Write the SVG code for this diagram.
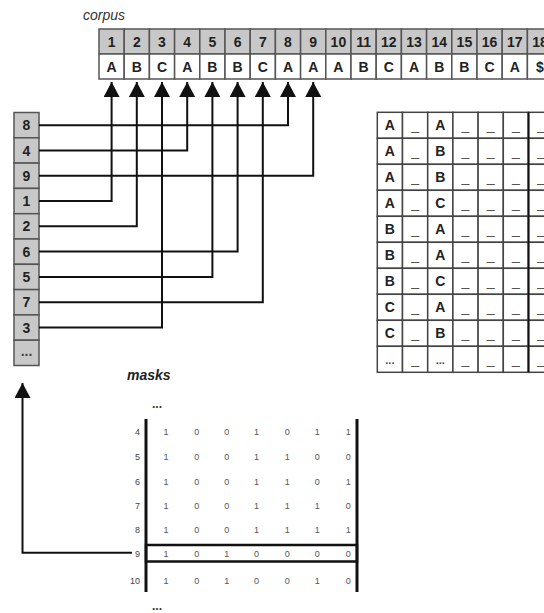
<svg xmlns="http://www.w3.org/2000/svg" width="544" height="613" viewBox="0 0 544 613">
<style>
.b{font-family:"Liberation Sans",Arial,sans-serif;font-weight:bold;font-size:14px;fill:#222;text-anchor:middle}
.u{font-family:"Liberation Sans",Arial,sans-serif;font-size:14px;fill:#555;text-anchor:middle}
.m{font-family:"Liberation Sans",Arial,sans-serif;font-size:9px;fill:#555;text-anchor:middle}
.ml{font-family:"Liberation Sans",Arial,sans-serif;font-size:9px;fill:#444;text-anchor:end}
.hd{fill:#c8c8c8;stroke:#555;stroke-width:1.5}
.cl{fill:#fff;stroke:#555;stroke-width:1.5}
.tc{fill:#fff;stroke:#444;stroke-width:1.5}
.cn{fill:none;stroke:#111;stroke-width:2}
.bar{stroke:#111;stroke-width:3}
</style>
<defs>
<marker id="ah" markerUnits="userSpaceOnUse" markerWidth="16" markerHeight="16" refX="15" refY="8" orient="auto">
<path d="M0,0 L15,8 L0,16 z" fill="#111"/>
</marker>
</defs>

<text x="83" y="20" font-family="Liberation Sans, Arial, sans-serif" font-style="italic" font-size="14" fill="#333">corpus</text>

<g id="corpus">
<rect class="hd" x="99" y="29" width="25.2" height="25"/><rect class="cl" x="99" y="54" width="25.2" height="25"/><text class="b" x="111.6" y="46.5">1</text><text class="b" x="111.6" y="71.5">A</text>
<rect class="hd" x="124.2" y="29" width="25.2" height="25"/><rect class="cl" x="124.2" y="54" width="25.2" height="25"/><text class="b" x="136.8" y="46.5">2</text><text class="b" x="136.8" y="71.5">B</text>
<rect class="hd" x="149.4" y="29" width="25.2" height="25"/><rect class="cl" x="149.4" y="54" width="25.2" height="25"/><text class="b" x="162" y="46.5">3</text><text class="b" x="162" y="71.5">C</text>
<rect class="hd" x="174.6" y="29" width="25.2" height="25"/><rect class="cl" x="174.6" y="54" width="25.2" height="25"/><text class="b" x="187.2" y="46.5">4</text><text class="b" x="187.2" y="71.5">A</text>
<rect class="hd" x="199.8" y="29" width="25.2" height="25"/><rect class="cl" x="199.8" y="54" width="25.2" height="25"/><text class="b" x="212.4" y="46.5">5</text><text class="b" x="212.4" y="71.5">B</text>
<rect class="hd" x="225" y="29" width="25.2" height="25"/><rect class="cl" x="225" y="54" width="25.2" height="25"/><text class="b" x="237.6" y="46.5">6</text><text class="b" x="237.6" y="71.5">B</text>
<rect class="hd" x="250.2" y="29" width="25.2" height="25"/><rect class="cl" x="250.2" y="54" width="25.2" height="25"/><text class="b" x="262.8" y="46.5">7</text><text class="b" x="262.8" y="71.5">C</text>
<rect class="hd" x="275.4" y="29" width="25.2" height="25"/><rect class="cl" x="275.4" y="54" width="25.2" height="25"/><text class="b" x="288" y="46.5">8</text><text class="b" x="288" y="71.5">A</text>
<rect class="hd" x="300.6" y="29" width="25.2" height="25"/><rect class="cl" x="300.6" y="54" width="25.2" height="25"/><text class="b" x="313.2" y="46.5">9</text><text class="b" x="313.2" y="71.5">A</text>
<rect class="hd" x="325.8" y="29" width="25.2" height="25"/><rect class="cl" x="325.8" y="54" width="25.2" height="25"/><text class="b" x="338.4" y="46.5">10</text><text class="b" x="338.4" y="71.5">A</text>
<rect class="hd" x="351" y="29" width="25.2" height="25"/><rect class="cl" x="351" y="54" width="25.2" height="25"/><text class="b" x="363.6" y="46.5">11</text><text class="b" x="363.6" y="71.5">B</text>
<rect class="hd" x="376.2" y="29" width="25.2" height="25"/><rect class="cl" x="376.2" y="54" width="25.2" height="25"/><text class="b" x="388.8" y="46.5">12</text><text class="b" x="388.8" y="71.5">C</text>
<rect class="hd" x="401.4" y="29" width="25.2" height="25"/><rect class="cl" x="401.4" y="54" width="25.2" height="25"/><text class="b" x="414" y="46.5">13</text><text class="b" x="414" y="71.5">A</text>
<rect class="hd" x="426.6" y="29" width="25.2" height="25"/><rect class="cl" x="426.6" y="54" width="25.2" height="25"/><text class="b" x="439.2" y="46.5">14</text><text class="b" x="439.2" y="71.5">B</text>
<rect class="hd" x="451.8" y="29" width="25.2" height="25"/><rect class="cl" x="451.8" y="54" width="25.2" height="25"/><text class="b" x="464.4" y="46.5">15</text><text class="b" x="464.4" y="71.5">B</text>
<rect class="hd" x="477" y="29" width="25.2" height="25"/><rect class="cl" x="477" y="54" width="25.2" height="25"/><text class="b" x="489.6" y="46.5">16</text><text class="b" x="489.6" y="71.5">C</text>
<rect class="hd" x="502.2" y="29" width="25.2" height="25"/><rect class="cl" x="502.2" y="54" width="25.2" height="25"/><text class="b" x="514.8" y="46.5">17</text><text class="b" x="514.8" y="71.5">A</text>
<rect class="hd" x="527.4" y="29" width="25.2" height="25"/><rect class="cl" x="527.4" y="54" width="25.2" height="25"/><text class="b" x="540" y="46.5">18</text><text class="b" x="540" y="71.5">$</text>
</g>

<g id="suffix-array">
<rect class="hd" x="14" y="112.5" width="25" height="25.3"/><text class="b" x="26.5" y="130.2">8</text>
<rect class="hd" x="14" y="137.8" width="25" height="25.3"/><text class="b" x="26.5" y="155.5">4</text>
<rect class="hd" x="14" y="163.1" width="25" height="25.3"/><text class="b" x="26.5" y="180.8">9</text>
<rect class="hd" x="14" y="188.4" width="25" height="25.3"/><text class="b" x="26.5" y="206.1">1</text>
<rect class="hd" x="14" y="213.7" width="25" height="25.3"/><text class="b" x="26.5" y="231.4">2</text>
<rect class="hd" x="14" y="239" width="25" height="25.3"/><text class="b" x="26.5" y="256.7">6</text>
<rect class="hd" x="14" y="264.3" width="25" height="25.3"/><text class="b" x="26.5" y="282">5</text>
<rect class="hd" x="14" y="289.6" width="25" height="25.3"/><text class="b" x="26.5" y="307.3">7</text>
<rect class="hd" x="14" y="314.9" width="25" height="25.3"/><text class="b" x="26.5" y="332.6">3</text>
<rect class="hd" x="14" y="340.2" width="25" height="25.3"/><text class="b" x="26.5" y="356" style="fill:#444">...</text>
</g>

<g id="table">
<g id="row1"><rect class="tc" x="377.3" y="112.3" width="25.2" height="26"/><rect class="tc" x="402.5" y="112.3" width="25.2" height="26"/><rect class="tc" x="427.7" y="112.3" width="25.2" height="26"/><rect class="tc" x="452.9" y="112.3" width="25.2" height="26"/><rect class="tc" x="478.1" y="112.3" width="25.2" height="26"/><rect class="tc" x="503.3" y="112.3" width="25.2" height="26"/><rect class="tc" x="528.5" y="112.3" width="25.2" height="26"/>
<text class="b" x="389.9" y="130.3">A</text><text class="u" x="415.1" y="130.3">_</text><text class="b" x="440.3" y="130.3">A</text><text class="u" x="465.5" y="130.3">_</text><text class="u" x="490.7" y="130.3">_</text><text class="u" x="515.9" y="130.3">_</text><text class="u" x="541.1" y="130.3">_</text></g>
<g id="row2"><rect class="tc" x="377.3" y="138.3" width="25.2" height="26"/><rect class="tc" x="402.5" y="138.3" width="25.2" height="26"/><rect class="tc" x="427.7" y="138.3" width="25.2" height="26"/><rect class="tc" x="452.9" y="138.3" width="25.2" height="26"/><rect class="tc" x="478.1" y="138.3" width="25.2" height="26"/><rect class="tc" x="503.3" y="138.3" width="25.2" height="26"/><rect class="tc" x="528.5" y="138.3" width="25.2" height="26"/>
<text class="b" x="389.9" y="156.3">A</text><text class="u" x="415.1" y="156.3">_</text><text class="b" x="440.3" y="156.3">B</text><text class="u" x="465.5" y="156.3">_</text><text class="u" x="490.7" y="156.3">_</text><text class="u" x="515.9" y="156.3">_</text><text class="u" x="541.1" y="156.3">_</text></g>
<g id="row3"><rect class="tc" x="377.3" y="164.3" width="25.2" height="26"/><rect class="tc" x="402.5" y="164.3" width="25.2" height="26"/><rect class="tc" x="427.7" y="164.3" width="25.2" height="26"/><rect class="tc" x="452.9" y="164.3" width="25.2" height="26"/><rect class="tc" x="478.1" y="164.3" width="25.2" height="26"/><rect class="tc" x="503.3" y="164.3" width="25.2" height="26"/><rect class="tc" x="528.5" y="164.3" width="25.2" height="26"/>
<text class="b" x="389.9" y="182.3">A</text><text class="u" x="415.1" y="182.3">_</text><text class="b" x="440.3" y="182.3">B</text><text class="u" x="465.5" y="182.3">_</text><text class="u" x="490.7" y="182.3">_</text><text class="u" x="515.9" y="182.3">_</text><text class="u" x="541.1" y="182.3">_</text></g>
<g id="row4"><rect class="tc" x="377.3" y="190.3" width="25.2" height="26"/><rect class="tc" x="402.5" y="190.3" width="25.2" height="26"/><rect class="tc" x="427.7" y="190.3" width="25.2" height="26"/><rect class="tc" x="452.9" y="190.3" width="25.2" height="26"/><rect class="tc" x="478.1" y="190.3" width="25.2" height="26"/><rect class="tc" x="503.3" y="190.3" width="25.2" height="26"/><rect class="tc" x="528.5" y="190.3" width="25.2" height="26"/>
<text class="b" x="389.9" y="208.3">A</text><text class="u" x="415.1" y="208.3">_</text><text class="b" x="440.3" y="208.3">C</text><text class="u" x="465.5" y="208.3">_</text><text class="u" x="490.7" y="208.3">_</text><text class="u" x="515.9" y="208.3">_</text><text class="u" x="541.1" y="208.3">_</text></g>
<g id="row5"><rect class="tc" x="377.3" y="216.3" width="25.2" height="26"/><rect class="tc" x="402.5" y="216.3" width="25.2" height="26"/><rect class="tc" x="427.7" y="216.3" width="25.2" height="26"/><rect class="tc" x="452.9" y="216.3" width="25.2" height="26"/><rect class="tc" x="478.1" y="216.3" width="25.2" height="26"/><rect class="tc" x="503.3" y="216.3" width="25.2" height="26"/><rect class="tc" x="528.5" y="216.3" width="25.2" height="26"/>
<text class="b" x="389.9" y="234.3">B</text><text class="u" x="415.1" y="234.3">_</text><text class="b" x="440.3" y="234.3">A</text><text class="u" x="465.5" y="234.3">_</text><text class="u" x="490.7" y="234.3">_</text><text class="u" x="515.9" y="234.3">_</text><text class="u" x="541.1" y="234.3">_</text></g>
<g id="row6"><rect class="tc" x="377.3" y="242.3" width="25.2" height="26"/><rect class="tc" x="402.5" y="242.3" width="25.2" height="26"/><rect class="tc" x="427.7" y="242.3" width="25.2" height="26"/><rect class="tc" x="452.9" y="242.3" width="25.2" height="26"/><rect class="tc" x="478.1" y="242.3" width="25.2" height="26"/><rect class="tc" x="503.3" y="242.3" width="25.2" height="26"/><rect class="tc" x="528.5" y="242.3" width="25.2" height="26"/>
<text class="b" x="389.9" y="260.3">B</text><text class="u" x="415.1" y="260.3">_</text><text class="b" x="440.3" y="260.3">A</text><text class="u" x="465.5" y="260.3">_</text><text class="u" x="490.7" y="260.3">_</text><text class="u" x="515.9" y="260.3">_</text><text class="u" x="541.1" y="260.3">_</text></g>
<g id="row7"><rect class="tc" x="377.3" y="268.3" width="25.2" height="26"/><rect class="tc" x="402.5" y="268.3" width="25.2" height="26"/><rect class="tc" x="427.7" y="268.3" width="25.2" height="26"/><rect class="tc" x="452.9" y="268.3" width="25.2" height="26"/><rect class="tc" x="478.1" y="268.3" width="25.2" height="26"/><rect class="tc" x="503.3" y="268.3" width="25.2" height="26"/><rect class="tc" x="528.5" y="268.3" width="25.2" height="26"/>
<text class="b" x="389.9" y="286.3">B</text><text class="u" x="415.1" y="286.3">_</text><text class="b" x="440.3" y="286.3">C</text><text class="u" x="465.5" y="286.3">_</text><text class="u" x="490.7" y="286.3">_</text><text class="u" x="515.9" y="286.3">_</text><text class="u" x="541.1" y="286.3">_</text></g>
<g id="row8"><rect class="tc" x="377.3" y="294.3" width="25.2" height="26"/><rect class="tc" x="402.5" y="294.3" width="25.2" height="26"/><rect class="tc" x="427.7" y="294.3" width="25.2" height="26"/><rect class="tc" x="452.9" y="294.3" width="25.2" height="26"/><rect class="tc" x="478.1" y="294.3" width="25.2" height="26"/><rect class="tc" x="503.3" y="294.3" width="25.2" height="26"/><rect class="tc" x="528.5" y="294.3" width="25.2" height="26"/>
<text class="b" x="389.9" y="312.3">C</text><text class="u" x="415.1" y="312.3">_</text><text class="b" x="440.3" y="312.3">A</text><text class="u" x="465.5" y="312.3">_</text><text class="u" x="490.7" y="312.3">_</text><text class="u" x="515.9" y="312.3">_</text><text class="u" x="541.1" y="312.3">_</text></g>
<g id="row9"><rect class="tc" x="377.3" y="320.3" width="25.2" height="26"/><rect class="tc" x="402.5" y="320.3" width="25.2" height="26"/><rect class="tc" x="427.7" y="320.3" width="25.2" height="26"/><rect class="tc" x="452.9" y="320.3" width="25.2" height="26"/><rect class="tc" x="478.1" y="320.3" width="25.2" height="26"/><rect class="tc" x="503.3" y="320.3" width="25.2" height="26"/><rect class="tc" x="528.5" y="320.3" width="25.2" height="26"/>
<text class="b" x="389.9" y="338.3">C</text><text class="u" x="415.1" y="338.3">_</text><text class="b" x="440.3" y="338.3">B</text><text class="u" x="465.5" y="338.3">_</text><text class="u" x="490.7" y="338.3">_</text><text class="u" x="515.9" y="338.3">_</text><text class="u" x="541.1" y="338.3">_</text></g>
<g id="row10"><rect class="tc" x="377.3" y="346.3" width="25.2" height="26"/><rect class="tc" x="402.5" y="346.3" width="25.2" height="26"/><rect class="tc" x="427.7" y="346.3" width="25.2" height="26"/><rect class="tc" x="452.9" y="346.3" width="25.2" height="26"/><rect class="tc" x="478.1" y="346.3" width="25.2" height="26"/><rect class="tc" x="503.3" y="346.3" width="25.2" height="26"/><rect class="tc" x="528.5" y="346.3" width="25.2" height="26"/>
<text class="b" x="389.9" y="364.3" style="font-size:11px;fill:#444">...</text><text class="u" x="415.1" y="364.3">_</text><text class="b" x="440.3" y="364.3" style="font-size:11px;fill:#444">...</text><text class="u" x="465.5" y="364.3">_</text><text class="u" x="490.7" y="364.3">_</text><text class="u" x="515.9" y="364.3">_</text><text class="u" x="541.1" y="364.3">_</text></g>
<line x1="528.5" y1="112.3" x2="528.5" y2="372.3" stroke="#111" stroke-width="2"/>
</g>

<g id="masks">
<text x="127" y="380" font-family="Liberation Sans, Arial, sans-serif" font-style="italic" font-weight="bold" font-size="14" fill="#222">masks</text>
<text x="152" y="408" font-family="Liberation Sans, Arial, sans-serif" font-weight="bold" font-size="12" fill="#333">...</text>
<line class="bar" x1="146" y1="419" x2="146" y2="592"/>
<line class="bar" x1="357" y1="419" x2="357" y2="592"/>
<rect x="146" y="545" width="211" height="16.5" fill="none" stroke="#111" stroke-width="2.5"/>
<g id="m4"><text class="ml" x="140" y="434.5">4</text><text class="m" x="166" y="434.5">1</text><text class="m" x="196.7" y="434.5">0</text><text class="m" x="226.7" y="434.5">0</text><text class="m" x="256.5" y="434.5">1</text><text class="m" x="287.3" y="434.5">0</text><text class="m" x="317.3" y="434.5">1</text><text class="m" x="348.3" y="434.5">1</text></g>
<g id="m5"><text class="ml" x="140" y="459.5">5</text><text class="m" x="166" y="459.5">1</text><text class="m" x="196.7" y="459.5">0</text><text class="m" x="226.7" y="459.5">0</text><text class="m" x="256.5" y="459.5">1</text><text class="m" x="287.3" y="459.5">1</text><text class="m" x="317.3" y="459.5">0</text><text class="m" x="348.3" y="459.5">0</text></g>
<g id="m6"><text class="ml" x="140" y="484.5">6</text><text class="m" x="166" y="484.5">1</text><text class="m" x="196.7" y="484.5">0</text><text class="m" x="226.7" y="484.5">0</text><text class="m" x="256.5" y="484.5">1</text><text class="m" x="287.3" y="484.5">1</text><text class="m" x="317.3" y="484.5">0</text><text class="m" x="348.3" y="484.5">1</text></g>
<g id="m7"><text class="ml" x="140" y="508.5">7</text><text class="m" x="166" y="508.5">1</text><text class="m" x="196.7" y="508.5">0</text><text class="m" x="226.7" y="508.5">0</text><text class="m" x="256.5" y="508.5">1</text><text class="m" x="287.3" y="508.5">1</text><text class="m" x="317.3" y="508.5">1</text><text class="m" x="348.3" y="508.5">0</text></g>
<g id="m8"><text class="ml" x="140" y="532.5">8</text><text class="m" x="166" y="532.5">1</text><text class="m" x="196.7" y="532.5">0</text><text class="m" x="226.7" y="532.5">0</text><text class="m" x="256.5" y="532.5">1</text><text class="m" x="287.3" y="532.5">1</text><text class="m" x="317.3" y="532.5">1</text><text class="m" x="348.3" y="532.5">1</text></g>
<g id="m9"><text class="ml" x="140" y="556.5">9</text><text class="m" x="166" y="556.5">1</text><text class="m" x="196.7" y="556.5">0</text><text class="m" x="226.7" y="556.5">1</text><text class="m" x="256.5" y="556.5">0</text><text class="m" x="287.3" y="556.5">0</text><text class="m" x="317.3" y="556.5">0</text><text class="m" x="348.3" y="556.5">0</text></g>
<g id="m10"><text class="ml" x="140" y="584">10</text><text class="m" x="166" y="584">1</text><text class="m" x="196.7" y="584">0</text><text class="m" x="226.7" y="584">1</text><text class="m" x="256.5" y="584">0</text><text class="m" x="287.3" y="584">0</text><text class="m" x="317.3" y="584">1</text><text class="m" x="348.3" y="584">0</text></g>
<text x="152" y="610" font-family="Liberation Sans, Arial, sans-serif" font-weight="bold" font-size="12" fill="#333">...</text>
</g>

<g id="connectors">
<path class="cn" d="M39,125.2 H288 V82" marker-end="url(#ah)"/>
<path class="cn" d="M39,150.5 H187.2 V82" marker-end="url(#ah)"/>
<path class="cn" d="M39,175.8 H313.2 V82" marker-end="url(#ah)"/>
<path class="cn" d="M39,201 H111.6 V82" marker-end="url(#ah)"/>
<path class="cn" d="M39,226.3 H136.8 V82" marker-end="url(#ah)"/>
<path class="cn" d="M39,251.6 H237.6 V82" marker-end="url(#ah)"/>
<path class="cn" d="M39,277 H212.4 V82" marker-end="url(#ah)"/>
<path class="cn" d="M39,302.2 H262.8 V82" marker-end="url(#ah)"/>
<path class="cn" d="M39,327.5 H162 V82" marker-end="url(#ah)"/>
<path class="cn" d="M132,552.8 H22.5 V383" marker-end="url(#ah)"/>
</g>
</svg>
